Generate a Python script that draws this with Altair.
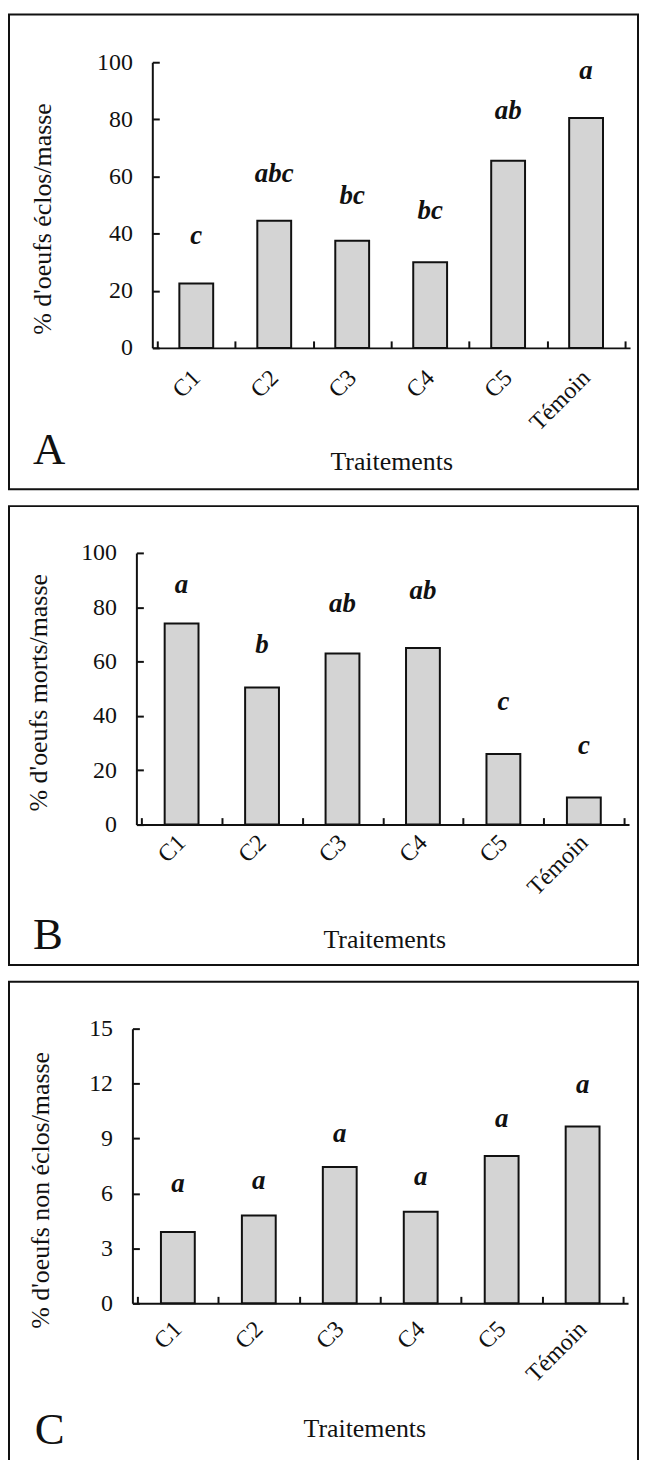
import json
import altair as alt
import pandas as pd

categories = ["C1", "C2", "C3", "C4", "C5", "Témoin"]

# Panel A: % d'oeufs éclos/masse
hatched = [22.5, 44.5, 37.5, 30.0, 65.5, 80.5]
hatched_sig = ["c", "abc", "bc", "bc", "ab", "a"]
hatched_sig_pos = [39, 61, 53, 48, 83, 97]

# Panel B: % d'oeufs morts/masse
dead = [74.0, 50.5, 63.0, 65.0, 26.0, 10.0]
dead_sig = ["a", "b", "ab", "ab", "c", "c"]
dead_sig_pos = [88, 66, 81, 86, 45, 29]

# Panel C: % d'oeufs non éclos/masse
unhatched = [3.9, 4.8, 7.45, 5.0, 8.05, 9.65]
unhatched_sig = ["a", "a", "a", "a", "a", "a"]
unhatched_sig_pos = [6.5, 6.7, 9.26, 6.9, 10.07, 11.9]

pct_ticks = [0, 20, 40, 60, 80, 100]
c_ticks = [0, 3, 6, 9, 12, 15]

FONT = "Liberation Serif"
INK = "#111111"
W = 498


def panel(values, sig, sig_pos, ytitle, yticks, ymax, letter, g):
    df = pd.DataFrame({
        "idx": list(range(len(categories))),
        "cat": categories,
        "value": values,
        "sig": sig,
        "pos": sig_pos,
    })
    H = g["h"]
    r0, r1 = g["range"]
    xscale = alt.Scale(domain=[-0.5, len(categories) - 0.5], range=[r0, r1], nice=False, zero=False)
    yscale = alt.Scale(domain=[0, ymax], nice=False)
    label_expr = json.dumps(categories, ensure_ascii=False) + "[datum.value]"
    bounds = [i - 0.5 for i in range(len(categories) + 1)]

    bars = alt.Chart(df).mark_bar(
        orient="vertical", size=34, fill="#d4d4d4", stroke=INK, strokeWidth=2
    ).encode(
        x=alt.X("idx:Q", scale=xscale, axis=alt.Axis(
            values=list(range(len(categories))), labelExpr=label_expr,
            labelAngle=-45, labelAlign="right", labelBaseline="middle",
            labelPadding=g["lpad"], ticks=False, tickSize=0, grid=False,
            domain=True, domainColor=INK, domainWidth=2,
            title="Traitements", titleX=g["tx"], titleY=g["ty"],
            titleAlign="center", titleBaseline="middle")),
        y=alt.Y("value:Q", scale=yscale, axis=alt.Axis(
            values=yticks, ticks=False, tickSize=0, grid=False,
            labelPadding=20, offset=-r0,
            domain=True, domainColor=INK, domainWidth=2,
            title=ytitle, titleAngle=-90, titleX=g["ytx"], titleY=g["yty"],
            titleAlign="center", titleBaseline="middle")),
    )

    sig_layer = alt.Chart(df).mark_text(
        font=FONT, fontSize=27, fontStyle="italic", fontWeight="bold",
        baseline="middle", color=INK
    ).encode(
        x=alt.X("idx:Q", scale=xscale, axis=alt.Axis(
            orient="top", offset=-H, values=bounds, labels=False, domain=False,
            ticks=True, tickSize=7, tickWidth=2, tickColor=INK, grid=False, title="")),
        y=alt.Y("pos:Q", scale=yscale, axis=alt.Axis(
            orient="right", offset=r0 - W, values=yticks, labels=False, domain=False,
            ticks=True, tickSize=7, tickWidth=2, tickColor=INK, grid=False, title="")),
        text="sig:N",
    )

    one = pd.DataFrame({"k": [0]})
    box = alt.Chart(one).mark_rect(filled=False, stroke=INK, strokeWidth=2).encode(
        x=alt.value(-124), x2=alt.value(508), y=alt.value(g["by0"]), y2=alt.value(g["by1"])
    )
    letter_txt = alt.Chart(one).mark_text(
        text=letter, font=FONT, fontSize=45, align="left", baseline="alphabetic", color=INK
    ).encode(x=alt.value(g["lx"]), y=alt.value(g["ly"]))

    return alt.layer(box, bars, sig_layer, letter_txt).resolve_axis(
        x="independent", y="independent"
    ).properties(width=W, height=H)


pA = panel(hatched, hatched_sig, hatched_sig_pos, "% d'oeufs éclos/masse", pct_ticks, 100, "A",
           dict(h=287, range=[20, 500], lpad=26, tx=260, ty=114, ytx=-110, yty=157,
                by0=-48, by1=429, lx=-100, ly=404))
pB = panel(dead, dead_sig, dead_sig_pos, "% d'oeufs morts/masse", pct_ticks, 100, "B",
           dict(h=273, range=[4, 499], lpad=14, tx=253, ty=115, ytx=-98, yty=140,
                by0=-47, by1=414, lx=-100, ly=398))
pC = panel(unhatched, unhatched_sig, unhatched_sig_pos, "% d'oeufs non éclos/masse", c_ticks, 15, "C",
           dict(h=276, range=[0, 498], lpad=22, tx=233, ty=126, ytx=-92, yty=162,
                by0=-47, by1=445, lx=-98, ly=417))

chart = alt.vconcat(pA, pB, pC, spacing=15).properties(
    padding={"left": 0, "top": 2, "right": 0, "bottom": 0},
    background="white",
).configure_view(strokeWidth=0).configure_axis(
    labelFont=FONT, titleFont=FONT, labelFontSize=24, titleFontSize=26,
    labelColor=INK, titleColor=INK, titleFontWeight="normal"
)

chart.save("out.html", embed_options={"renderer": "svg", "actions": False})
